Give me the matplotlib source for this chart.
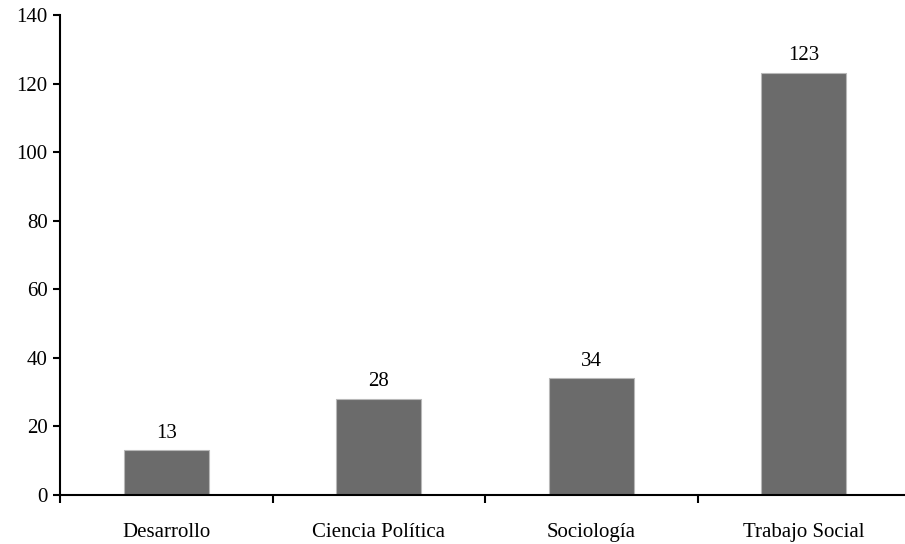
import numpy as np
from matplotlib import pyplot as plt

categories = ['Desarrollo', 'Ciencia Política', 'Sociología', 'Trabajo Social']
values = [13, 28, 34, 123]
y_ticks = [0, 20, 40, 60, 80, 100, 120, 140]

plt.rcParams['font.family'] = ['Liberation Serif', 'DejaVu Serif']
plt.rcParams['font.size'] = 15

fig = plt.figure(figsize=(9.05, 5.44), dpi=100)
ax = fig.add_axes([60/905, 49/544, 850/905, 480/544])

x = np.arange(len(categories))
bars = ax.bar(x, values, width=0.4, color='#6b6b6b', edgecolor='#b8b8b8', linewidth=0.8)
for xi, v in zip(x, values):
    ax.text(xi, v + 2.3, str(v), ha='center', va='bottom', fontsize=15)

ax.set_xlim(-0.5, len(categories) - 0.5)
ax.set_ylim(0, 140)
ax.set_yticks(y_ticks)
ax.set_xticks(x)
ax.set_xticklabels(categories)
ax.tick_params(axis='x', length=0, pad=20)
ax.set_xticks(np.arange(len(categories) + 1) - 0.5, minor=True)
ax.tick_params(axis='x', which='minor', length=6, width=1.5, direction='out')
ax.tick_params(axis='y', length=5, width=1.5, direction='out', pad=4)

for side in ['top', 'right']:
    ax.spines[side].set_visible(False)
for side in ['left', 'bottom']:
    ax.spines[side].set_linewidth(1.5)

fig.savefig('out.png', dpi=100)
